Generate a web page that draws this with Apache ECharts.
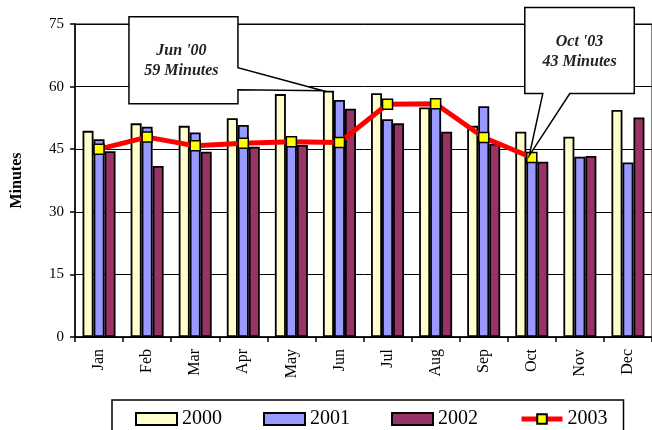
<!DOCTYPE html>
<html>
<head>
<meta charset="utf-8">
<script src="https://cdn.jsdelivr.net/npm/echarts@6/dist/echarts.min.js"></script>
<style>
  html, body { margin: 0; padding: 0; background: #fff; }
  #chart { width: 652px; height: 430px; }
</style>
</head>
<body>
<div id="chart"></div>
<script>
// Monthly average minutes, by year
const months = ['Jan', 'Feb', 'Mar', 'Apr', 'May', 'Jun', 'Jul', 'Aug', 'Sep', 'Oct', 'Nov', 'Dec'];
const years = ['2000', '2001', '2002', '2003'];
const y2000 = [49.4, 51.2, 50.6, 52.4, 58.2, 59, 58.4, 55.0, 50.6, 49.2, 48.0, 54.4];
const y2001 = [47.4, 50.4, 49.0, 50.8, 46.5, 56.8, 52.2, 56.5, 55.3, 42.5, 43.2, 41.8];
const y2002 = [44.5, 41.0, 44.4, 45.6, 46.0, 54.7, 51.2, 49.2, 46.3, 42.0, 43.4, 52.6];
const y2003 = [45.0, 47.9, 45.8, 46.4, 46.8, 46.6, 55.8, 55.9, 47.8, 43, null, null];
const yTicks = [0, 15, 30, 45, 60, 75];

const FONT = 'Liberation Serif';
const chart = echarts.init(document.getElementById('chart'), null, { renderer: 'canvas' });

const barStyle = (color) => ({ color: color, borderColor: '#000', borderWidth: 1.8 });

chart.setOption({
  animation: false,
  backgroundColor: '#fff',
  textStyle: { fontFamily: FONT, color: '#000' },
  grid: {
    left: 75, top: 24, width: 580, height: 313,
    show: true, borderColor: '#808080', borderWidth: 2, backgroundColor: 'transparent'
  },
  xAxis: {
    type: 'category',
    data: months,
    axisLine: { lineStyle: { color: '#000', width: 1.5 } },
    axisTick: { show: true, length: 5, lineStyle: { color: '#000', width: 1.5 } },
    axisLabel: { rotate: 90, fontSize: 16, fontFamily: FONT, color: '#000', margin: 12 }
  },
  yAxis: {
    type: 'value',
    min: yTicks[0], max: yTicks[yTicks.length - 1], interval: 15,
    name: 'Minutes',
    nameLocation: 'middle',
    nameGap: 50,
    nameTextStyle: { fontFamily: FONT, fontSize: 16, fontWeight: 'bold', color: '#000' },
    axisLine: { show: true, lineStyle: { color: '#000', width: 1.5 } },
    axisTick: { show: true, length: 5, lineStyle: { color: '#000', width: 1.5 } },
    axisLabel: { fontSize: 15, fontFamily: FONT, color: '#000', margin: 11 },
    splitLine: { show: true, lineStyle: { color: '#000', width: 1 } }
  },
  legend: {
    data: [
      { name: years[0], icon: 'rect' },
      { name: years[1], icon: 'rect' },
      { name: years[2], icon: 'rect' },
      { name: years[3] }
    ],
    left: 112, top: 400,
    padding: [9, 16, 12, 23],
    itemWidth: 41, itemHeight: 12, itemGap: 41,
    borderColor: '#000', borderWidth: 1.5,
    lineStyle: { width: 5 },
    textStyle: { fontFamily: FONT, fontSize: 20, color: '#000' }
  },
  series: [
    { name: years[0], type: 'bar', data: y2000, barWidth: 11, barGap: '0%', itemStyle: barStyle('#FFFFCC') },
    { name: years[1], type: 'bar', data: y2001, barWidth: 11, barGap: '0%', itemStyle: barStyle('#9999FF') },
    { name: years[2], type: 'bar', data: y2002, barWidth: 11, barGap: '0%', itemStyle: barStyle('#993366') },
    {
      name: years[3], type: 'line', data: y2003, z: 5,
      symbol: 'rect', symbolSize: 10,
      lineStyle: { color: '#FF0000', width: 5 },
      itemStyle: { color: '#FFFF00', borderColor: '#000', borderWidth: 1.5 }
    }
  ]
});

// Callouts anchored to the highlighted data points
function callouts() {
  const els = [];
  const bw = 11;
  const stroke = { fill: '#fff', stroke: '#000', lineWidth: 1.5 };
  const txt = (x, y, s) => ({
    type: 'text', z: 20, x: x, y: y,
    style: { text: s, fill: '#222', font: 'italic bold 16px ' + FONT, align: 'center', verticalAlign: 'middle' }
  });

  // Peak of 2000 (June): pointer hits the top-left corner of its bar
  const jun = 5;
  const [jcx, jy] = chart.convertToPixel({ gridIndex: 0 }, [jun, y2000[jun]]);
  const tx = jcx - 1.5 * bw, ty = jy;
  const L = tx - 194, R = tx - 85, T = ty - 74, B = ty + 13;
  els.push({
    type: 'polygon', z: 19,
    shape: { points: [[L, T], [R, T], [R, ty - 23], [tx, ty], [R, ty - 1], [R, B], [L, B]] },
    style: stroke
  });
  els.push(txt((L + R) / 2 - 2, T + 34, months[jun] + " '00"));
  els.push(txt((L + R) / 2 - 2, T + 54, Math.round(y2000[jun]) + ' Minutes'));

  // October 2003 point
  const oct = 9;
  const [ocx, ocy] = chart.convertToPixel({ gridIndex: 0 }, [oct, y2003[oct]]);
  const px = ocx - 2.5, py = ocy - 2;
  const L2 = ocx - 7, R2 = ocx + 102.5, T2 = ocy - 150, B2 = ocy - 64;
  els.push({
    type: 'polygon', z: 19,
    shape: { points: [[L2, T2], [R2, T2], [R2, B2], [ocx + 38, B2], [px, py], [ocx + 11, B2], [L2, B2]] },
    style: stroke
  });
  els.push(txt((L2 + R2) / 2, T2 + 34, months[oct] + " '03"));
  els.push(txt((L2 + R2) / 2, T2 + 54, Math.round(y2003[oct]) + ' Minutes'));
  return els;
}

chart.setOption({ graphic: callouts() });
</script>
</body>
</html>
